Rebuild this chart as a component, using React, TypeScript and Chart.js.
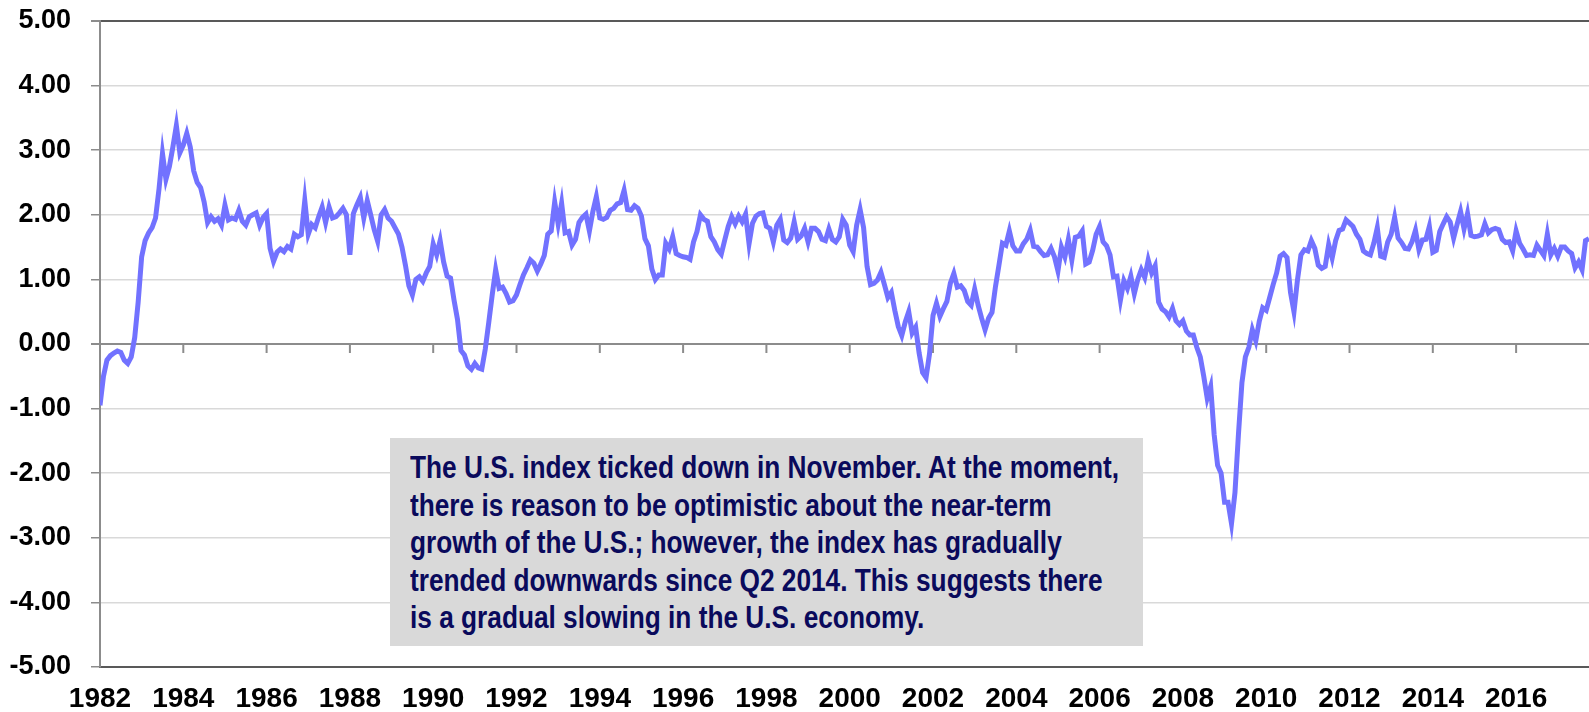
import React, { useEffect, useRef } from 'react';
import { Chart, registerables } from 'chart.js';

Chart.register(...registerables);

// Monthly index values, starting January 1982
const startYear = 1982;
const values1982to1989 = [
  -0.95, -0.5, -0.25, -0.18, -0.14, -0.11, -0.13, -0.25, -0.3, -0.2, 0.1, 0.65,
  1.35, 1.6, 1.72, 1.8, 1.95, 2.4, 2.95, 2.55, 2.75, 3.05, 3.38, 2.96,
  3.08, 3.26, 3.05, 2.68, 2.5, 2.42, 2.2, 1.88, 1.97, 1.9, 1.94, 1.84,
  2.15, 1.92, 1.95, 1.93, 2.07, 1.9, 1.84, 1.97, 2.0, 2.03, 1.84, 1.96,
  2.02, 1.48, 1.28, 1.42, 1.47, 1.43, 1.51, 1.47, 1.7, 1.66, 1.69, 2.22,
  1.7, 1.85, 1.8, 1.97, 2.12, 1.88, 2.12, 1.95, 1.97, 2.03, 2.1, 2.0,
  1.38, 2.02, 2.15, 2.27, 1.95, 2.22, 2.0, 1.77, 1.59, 2.0, 2.08, 1.95,
  1.9, 1.8, 1.7, 1.5, 1.22, 0.9, 0.76, 1.0, 1.04, 0.97, 1.1, 1.2,
];
const values1990to1999 = [
  1.55, 1.38, 1.6, 1.27, 1.05, 1.02, 0.68, 0.38, -0.1, -0.17, -0.34, -0.39,
  -0.3, -0.37, -0.39, -0.08, 0.33, 0.76, 1.15, 0.86, 0.88, 0.78, 0.65, 0.67,
  0.76, 0.92, 1.07, 1.18, 1.3, 1.25, 1.13, 1.24, 1.37, 1.7, 1.75, 2.2,
  1.86, 2.18, 1.72, 1.74, 1.53, 1.62, 1.88, 1.96, 2.01, 1.75, 2.05, 2.28,
  1.95, 1.93, 1.96, 2.07, 2.1, 2.17, 2.19, 2.38, 2.08, 2.07, 2.14, 2.1,
  1.98, 1.63, 1.52, 1.16, 1.0, 1.07, 1.07, 1.56, 1.47, 1.66, 1.4, 1.37,
  1.35, 1.34, 1.31, 1.58, 1.74, 2.0, 1.93, 1.9, 1.66, 1.58, 1.46, 1.39,
  1.61, 1.82, 1.97, 1.86, 1.98, 1.89, 2.01, 1.55, 1.87, 1.98, 2.02, 2.03,
  1.82, 1.79, 1.58, 1.84, 1.93, 1.61, 1.57, 1.64, 1.89, 1.62, 1.67, 1.79,
  1.58, 1.79, 1.79, 1.74, 1.62, 1.6, 1.78, 1.62, 1.58, 1.66, 1.93, 1.84,
];
const values2000to2009 = [
  1.53, 1.43, 1.84, 2.08, 1.8, 1.2, 0.92, 0.94, 0.99, 1.11, 0.92, 0.72,
  0.8, 0.52, 0.27, 0.13, 0.34, 0.5, 0.17, 0.26, -0.14, -0.44, -0.52, -0.15,
  0.44, 0.63, 0.43, 0.55, 0.66, 0.94, 1.09, 0.88, 0.9, 0.83, 0.66, 0.6,
  0.85, 0.6, 0.4, 0.22, 0.4, 0.49, 0.89, 1.22, 1.56, 1.53, 1.75, 1.52,
  1.44, 1.44, 1.55, 1.62, 1.76, 1.51, 1.5, 1.43, 1.37, 1.38, 1.48, 1.35,
  1.13, 1.5, 1.35, 1.62, 1.3, 1.65, 1.67, 1.75, 1.24, 1.27, 1.45, 1.7,
  1.82, 1.58, 1.52, 1.38, 1.04, 1.05, 0.68, 0.98, 0.86, 1.05, 0.78, 1.0,
  1.15, 1.03, 1.3, 1.1, 1.21, 0.65, 0.54, 0.5, 0.42, 0.55, 0.36, 0.3,
  0.36, 0.2, 0.14, 0.14, -0.05, -0.2, -0.5, -0.84, -0.66, -1.4, -1.88, -2.0,
  -2.45, -2.45, -2.78, -2.3, -1.4, -0.6, -0.2, -0.05, 0.22, 0.05, 0.35, 0.56,
];
const values2010to2017 = [
  0.52, 0.72, 0.92, 1.1, 1.36, 1.4, 1.34, 0.8, 0.5, 0.99, 1.38, 1.46,
  1.44, 1.6, 1.48, 1.22, 1.17, 1.2, 1.54, 1.33, 1.6, 1.76, 1.78, 1.92,
  1.87, 1.82, 1.7, 1.62, 1.44, 1.4, 1.38, 1.56, 1.8, 1.36, 1.34, 1.58,
  1.7, 1.96, 1.64, 1.57, 1.48, 1.47, 1.58, 1.76, 1.46, 1.61, 1.62, 1.82,
  1.42, 1.45, 1.74, 1.86, 1.97, 1.89, 1.64, 1.85, 2.05, 1.78, 2.02, 1.68,
  1.66, 1.67, 1.69, 1.86, 1.72, 1.77, 1.79, 1.77, 1.62, 1.57, 1.58, 1.44,
  1.75, 1.56, 1.47, 1.37, 1.38, 1.37, 1.53, 1.45, 1.37, 1.7, 1.38, 1.48,
  1.36, 1.5, 1.5, 1.44, 1.4, 1.18, 1.27, 1.15, 1.6, 1.63,
];

const tickYears = [1982, 1984, 1986, 1988, 1990, 1992, 1994, 1996, 1998, 2000, 2002, 2004, 2006, 2008, 2010, 2012, 2014, 2016];

const noteLines = [
  'The U.S. index ticked down in November. At the moment,',
  'there is reason to be optimistic about the near-term',
  'growth of the U.S.; however, the index has gradually',
  'trended downwards since Q2 2014. This suggests there',
  'is a gradual slowing in the U.S. economy.',
];

const FONT_FAMILY = "'Liberation Sans', Arial, sans-serif";

const zeroTicksPlugin = {
  id: 'zeroTicks',
  beforeDatasetsDraw(chart: any) {
    const xs = chart.scales.x;
    const ys = chart.scales.y;
    const y0 = ys.getPixelForValue(0);
    const ctx = chart.ctx;
    ctx.save();
    ctx.strokeStyle = '#8c8c8c';
    ctx.lineWidth = 2;
    xs.ticks.forEach((t: any) => {
      const px = xs.getPixelForValue(t.value);
      ctx.beginPath();
      ctx.moveTo(px, y0);
      ctx.lineTo(px, y0 + 9);
      ctx.stroke();
    });
    ctx.restore();
  },
};

export default function App() {
  const canvasRef = useRef<HTMLCanvasElement | null>(null);

  useEffect(() => {
    const all = [...values1982to1989, ...values1990to1999, ...values2000to2009, ...values2010to2017];
    const points = all.map((v, i) => ({ x: startYear + i / 12, y: v }));
    const maxX = startYear + (all.length - 1) / 12;
    const chart = new Chart(canvasRef.current as HTMLCanvasElement, {
      type: 'line',
      data: {
        datasets: [
          {
            data: points,
            borderColor: '#7272ff',
            borderWidth: 5,
            pointRadius: 0,
            tension: 0,
            fill: false,
          },
        ],
      },
      options: {
        animation: false,
        responsive: false,
        devicePixelRatio: 1,
        layout: { padding: { top: 21, left: 0, right: 0, bottom: 0 } },
        plugins: { legend: { display: false }, tooltip: { enabled: false } },
        scales: {
          x: {
            type: 'linear',
            min: startYear,
            max: maxX,
            afterBuildTicks: (scale: any) => {
              scale.ticks = tickYears.map((v) => ({ value: v }));
            },
            afterFit: (scale: any) => {
              scale.height = 45;
            },
            grid: { display: false },
            border: { display: true, color: '#595959', width: 2 },
            ticks: {
              autoSkip: false,
              maxRotation: 0,
              padding: 7,
              color: '#000',
              font: { family: FONT_FAMILY, size: 28, weight: 'bold' },
              callback: (v: any) => String(v),
            },
          },
          y: {
            min: -5,
            max: 5,
            afterFit: (scale: any) => {
              scale.width = 100;
              scale.paddingTop = 0;
              scale.paddingBottom = 0;
            },
            grid: {
              color: (c: any) => (c.tick && (c.tick.value === 5 || c.tick.value === -5) ? '#595959' : c.tick && c.tick.value === 0 ? '#8c8c8c' : '#d9d9d9'),
              lineWidth: (c: any) => (c.tick && (c.tick.value === 0 || c.tick.value === 5) ? 2 : 1.5),
              tickColor: '#8c8c8c',
              tickLength: 9,
              drawTicks: true,
            },
            border: { display: true, color: '#8c8c8c', width: 2 },
            ticks: {
              stepSize: 1,
              padding: 20,
              color: '#000',
              font: { family: FONT_FAMILY, size: 27, weight: 'bold' },
              callback: (v: any) => Number(v).toFixed(2),
            },
          },
        },
      },
      plugins: [zeroTicksPlugin],
    });
    return () => chart.destroy();
  }, []);

  return (
    <div style={{ position: 'fixed', left: 0, top: 0, width: 1589, height: 712, background: '#fff', overflow: 'hidden' }}>
      <canvas ref={canvasRef} width={1589} height={712} style={{ display: 'block', width: 1589, height: 712 }} />
      <div
        style={{
          position: 'absolute',
          left: 390,
          top: 438,
          width: 753,
          height: 208,
          boxSizing: 'border-box',
          background: '#d9d9d9',
          padding: '11px 0 0 20px',
          color: '#0a0a5c',
        }}
      >
        <div
          style={{
            fontFamily: FONT_FAMILY,
            fontWeight: 'bold',
            fontSize: 32,
            lineHeight: '37.5px',
            transform: 'scaleX(0.82)',
            transformOrigin: 'left top',
          }}
        >
          {noteLines.map((line, i) => (
            <div key={i} style={{ whiteSpace: 'nowrap' }}>
              {line}
            </div>
          ))}
        </div>
      </div>
    </div>
  );
}
